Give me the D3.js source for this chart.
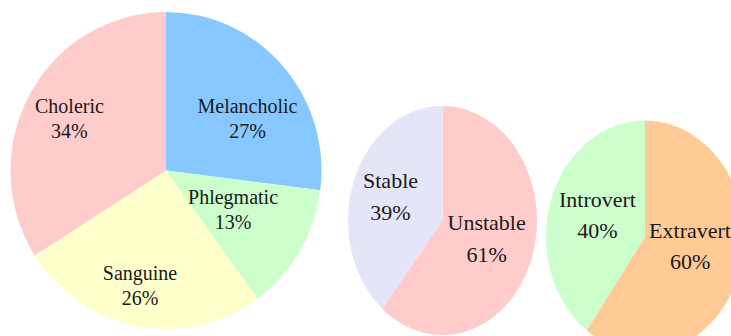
<!DOCTYPE html>
<html>
<head>
<meta charset="utf-8">
<script src="https://cdn.jsdelivr.net/npm/d3@7"></script>
<style>
  html, body { margin: 0; padding: 0; background: #fff; overflow: hidden; }
  svg { display: block; }
  text { font-family: "Liberation Serif", "Times New Roman", serif; fill: #1a1a1a; }
</style>
</head>
<body>
<svg id="chart" width="731" height="336"></svg>
<script>
// Temperament breakdown (clockwise from 12 o'clock)
const temperamentLabels = ["Melancholic", "Phlegmatic", "Sanguine", "Choleric"];
const temperamentValues = [27, 13, 26, 34];
const temperamentColors = ["#86C8FF", "#CCFFCC", "#FFFFCC", "#FFCCCC"];

// Emotional stability
const stabilityLabels = ["Unstable", "Stable"];
const stabilityValues = [61, 39];
const stabilityColors = ["#FFCCCC", "#E5E5FA"];

// Introversion / extraversion
const versionLabels = ["Extravert", "Introvert"];
const versionValues = [60, 40];
const versionColors = ["#FFCA96", "#CCFFCC"];

// Layout of each pie: centre, radii, font size, line gap and label offsets
// (offsets are expressed in units of the pie's radii)
const pies = [
  {
    labels: temperamentLabels, values: temperamentValues, colors: temperamentColors,
    cx: 166, cy: 170.5, rx: 155.5, ry: 158.5, font: 20, gap: 25,
    labelAt: [[0.524, -0.282], [0.431, 0.290], [-0.167, 0.770], [-0.621, -0.282]]
  },
  {
    labels: stabilityLabels, values: stabilityValues, colors: stabilityColors,
    cx: 442.5, cy: 220.5, rx: 94.5, ry: 114.5, font: 22, gap: 32,
    labelAt: [[0.467, 0.221], [-0.550, -0.146]]
  },
  {
    labels: versionLabels, values: versionValues, colors: versionColors,
    cx: 645, cy: 236.5, rx: 99, ry: 116, font: 22, gap: 31,
    labelAt: [[0.455, 0.149], [-0.480, -0.125]]
  }
];

const svg = d3.select("#chart");
const pieGen = d3.pie().sort(null).value(d => d);
const unitArc = d3.arc().innerRadius(0).outerRadius(1);

pies.forEach(p => {
  const arcs = pieGen(p.values);
  const g = svg.append("g").attr("transform", `translate(${p.cx},${p.cy})`);

  // Slices drawn on a unit circle, stretched into the pie's ellipse
  g.append("g")
    .attr("transform", `scale(${p.rx},${p.ry})`)
    .selectAll("path")
    .data(arcs)
    .join("path")
    .attr("d", unitArc)
    .attr("fill", (d, i) => p.colors[i]);

  // Two-line labels: category name and percentage
  const lab = g.selectAll("text.lbl")
    .data(arcs)
    .join("text")
    .attr("class", "lbl")
    .attr("text-anchor", "middle")
    .attr("font-size", p.font)
    .attr("transform", (d, i) =>
      `translate(${p.labelAt[i][0] * p.rx},${p.labelAt[i][1] * p.ry})`);

  lab.append("tspan")
    .attr("x", 0)
    .attr("y", -p.gap / 2)
    .text((d, i) => p.labels[i]);

  lab.append("tspan")
    .attr("x", 0)
    .attr("y", p.gap / 2)
    .text(d => d3.format(".0f")(d.value) + "%");
});
</script>
</body>
</html>
